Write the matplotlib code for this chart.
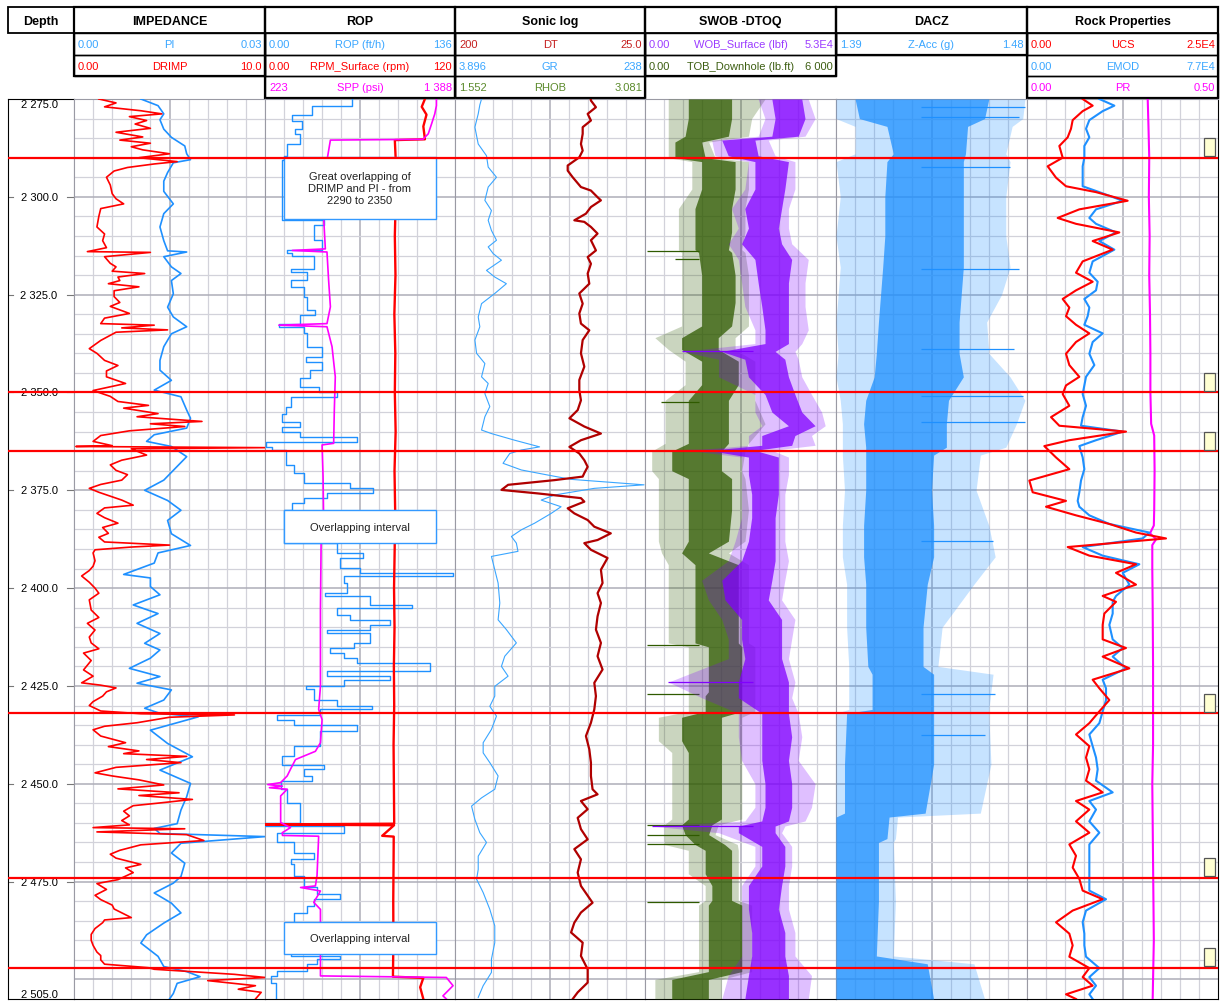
import matplotlib.pyplot as plt
import numpy as np
from matplotlib.patches import Rectangle

plt.rcParams['font.family'] = ['Liberation Sans', 'DejaVu Sans']

# ---------------------------------------------------------
# Depth window, formation tops and notes
# ---------------------------------------------------------
TOP_D, BOT_D = 2275.0, 2505.0
TOPS = [2290.0, 2350.0, 2365.0, 2432.0, 2474.0, 2497.0]
DEPTH_LABELS = [2275, 2300, 2325, 2350, 2375, 2400, 2425, 2450, 2475, 2505]
NOTES = ["Great overlapping of\nDRIMP and PI - from\n2290 to 2350",
         "Overlapping interval", "Overlapping interval"]
NOTE_SPANS = [(2289.8, 2305.6), (2380.1, 2388.5), (2485.2, 2493.6)]

TRACK_TITLES = ["IMPEDANCE", "ROP", "Sonic log", "SWOB -DTOQ", "DACZ", "Rock Properties"]

BLUE = '#1e90ff'
LBLUE = '#3aa6ff'
RED = '#ff0000'
MAG = '#ff00ff'
DTRED = '#b00000'
VIOLET = '#8000ff'
DKGREEN = '#2f5a00'

HEADER_ROWS = [
    [("0.00", "PI", "0.03", LBLUE), ("0.00", "DRIMP", "10.0", RED)],
    [("0.00", "ROP (ft/h)", "136", LBLUE), ("0.00", "RPM_Surface (rpm)", "120", RED),
     ("223", "SPP (psi)", "1 388", MAG)],
    [("200", "DT", "25.0", '#c41e1e'), ("3.896", "GR", "238", LBLUE),
     ("1.552", "RHOB", "3.081", '#5b8a2b')],
    [("0.00", "WOB_Surface (lbf)", "5.3E4", '#9b3cff'),
     ("0.00", "TOB_Downhole (lb.ft)", "6 000", '#3d5e12')],
    [("1.39", "Z-Acc (g)", "1.48", LBLUE)],
    [("0.00", "UCS", "2.5E4", RED), ("0.00", "EMOD", "7.7E4", LBLUE), ("0.00", "PR", "0.50", MAG)],
]

# ---------------------------------------------------------
# Log curves: columns are depth (m), value
# ---------------------------------------------------------
DRIMP_LOG = np.array([
    [2275.0, 1.3], [2276.0, 2.2], [2277.0, 1.6], [2278.0, 3.5], [2278.8, 4.6], [2279.5, 2.9],
    [2280.5, 3.8], [2281.4, 3.2], [2282.5, 4.0], [2283.5, 2.2], [2284.7, 3.6], [2285.5, 2.4],
    [2286.3, 4.0], [2287.2, 3.0], [2288.0, 3.6], [2289.0, 5.0], [2290.0, 3.4], [2291.0, 5.4],
    [2291.6, 4.2], [2292.5, 2.8], [2293.4, 2.1], [2295.0, 1.7], [2297.0, 1.9], [2299.2, 2.0],
    [2300.5, 2.2], [2301.8, 2.6], [2303.0, 1.4], [2305.0, 1.3], [2307.7, 1.2], [2309.5, 1.6],
    [2311.2, 1.5], [2313.0, 1.7], [2314.0, 0.7], [2314.2, 4.0], [2315.3, 1.6], [2317.0, 1.9],
    [2317.9, 2.2], [2319.0, 2.0], [2319.6, 3.7], [2320.5, 2.3], [2321.4, 2.4], [2322.2, 1.8],
    [2323.0, 3.4], [2324.0, 2.1], [2325.5, 2.1], [2327.0, 2.4], [2328.0, 1.9], [2329.8, 2.9],
    [2331.0, 1.6], [2332.4, 1.4], [2332.8, 4.2], [2333.5, 2.5], [2334.0, 4.9], [2334.6, 2.2],
    [2336.7, 1.4], [2338.8, 0.8], [2340.0, 1.2], [2341.8, 1.6], [2343.1, 2.3], [2344.5, 1.7],
    [2346.0, 1.7], [2347.7, 2.7], [2349.5, 1.0], [2351.0, 1.9], [2352.3, 2.3], [2353.3, 3.9],
    [2354.0, 2.6], [2355.4, 4.4], [2356.2, 3.3], [2357.4, 6.7], [2358.0, 4.0], [2358.7, 5.8],
    [2359.8, 2.9], [2361.0, 1.4], [2362.5, 1.0], [2363.6, 2.0], [2363.8, 0.1], [2364.1, 10.0],
    [2364.4, 3.0], [2366.0, 3.8], [2367.3, 2.5], [2368.5, 1.9], [2369.9, 2.2], [2371.0, 2.8],
    [2372.4, 2.5], [2373.5, 1.4], [2374.5, 0.8], [2375.5, 1.3], [2376.5, 1.9], [2377.5, 2.5],
    [2378.8, 3.1], [2379.5, 1.6], [2380.9, 1.2], [2382.0, 1.6], [2383.4, 2.3], [2384.5, 1.5],
    [2386.0, 1.8], [2387.0, 1.3], [2388.2, 1.6], [2389.0, 5.0], [2389.5, 3.0], [2390.2, 1.1],
    [2391.0, 1.0], [2393.0, 1.1], [2394.4, 1.0], [2395.5, 0.8], [2396.9, 0.4], [2398.5, 0.8],
    [2400.0, 1.1], [2401.3, 1.3], [2403.0, 0.8], [2405.6, 0.9], [2407.5, 1.3], [2409.0, 0.7],
    [2410.7, 1.1], [2412.5, 0.8], [2414.0, 0.9], [2415.5, 1.3], [2416.6, 0.5], [2418.5, 0.9],
    [2420.9, 0.5], [2422.5, 1.0], [2424.2, 0.4], [2424.8, 1.4], [2425.5, 2.2], [2426.5, 1.7],
    [2427.6, 1.5], [2429.0, 1.0], [2430.0, 0.8], [2431.4, 1.4], [2432.1, 3.5], [2432.4, 8.4],
    [2433.0, 5.0], [2434.4, 3.3], [2435.3, 1.6], [2436.2, 1.0], [2437.8, 1.4], [2439.5, 2.7],
    [2440.5, 1.8], [2441.6, 3.4], [2442.3, 2.6], [2443.0, 5.9], [2443.8, 3.8], [2444.6, 5.6],
    [2445.8, 2.2], [2447.2, 1.1], [2448.0, 2.0], [2449.0, 3.4], [2450.3, 4.7], [2451.3, 2.3],
    [2452.3, 5.5], [2453.0, 3.4], [2454.0, 6.2], [2455.0, 4.3], [2455.6, 3.1], [2457.0, 2.6],
    [2458.2, 2.9], [2459.4, 2.5], [2460.5, 2.9], [2461.2, 1.0], [2461.5, 5.8], [2462.3, 1.2],
    [2463.0, 5.9], [2464.5, 6.8], [2465.6, 3.5], [2467.0, 2.4], [2468.0, 1.9], [2469.0, 2.2],
    [2470.6, 3.5], [2471.5, 2.7], [2472.7, 3.1], [2474.5, 2.3], [2475.5, 1.2], [2477.0, 1.7],
    [2478.5, 1.1], [2479.6, 1.4], [2481.0, 2.0], [2482.0, 2.1], [2484.2, 3.0], [2484.8, 1.6],
    [2485.5, 1.5], [2487.0, 1.1], [2488.5, 0.9], [2490.0, 0.9], [2491.3, 1.0], [2493.0, 1.2],
    [2493.9, 1.4], [2495.0, 1.4], [2496.1, 1.6], [2497.0, 3.9], [2497.4, 4.2], [2498.0, 6.1],
    [2498.7, 8.4], [2499.5, 10.0], [2500.3, 7.0], [2501.6, 9.5], [2502.5, 8.6], [2503.3, 9.8],
    [2505.0, 9.5],
])

PI_LOG = np.array([
    [2275.0, 0.0105], [2276.7, 0.0132], [2278.8, 0.0141], [2280.3, 0.0135], [2282.7, 0.0141],
    [2284.8, 0.0153], [2287.0, 0.0174], [2289.0, 0.0177], [2290.5, 0.0183], [2291.3, 0.0156],
    [2293.8, 0.0147], [2296.0, 0.0141], [2298.6, 0.0141], [2301.8, 0.0156], [2304.3, 0.0141],
    [2307.7, 0.0135], [2311.2, 0.0141], [2313.8, 0.0147], [2314.1, 0.0177], [2315.3, 0.0141],
    [2317.9, 0.0153], [2319.6, 0.0168], [2321.4, 0.0153], [2324.8, 0.0156], [2328.2, 0.0147],
    [2330.7, 0.0156], [2333.2, 0.0177], [2335.0, 0.0153], [2338.3, 0.0141], [2341.8, 0.0135],
    [2344.3, 0.0135], [2346.9, 0.0153], [2349.4, 0.0126], [2351.1, 0.0168], [2354.5, 0.0177],
    [2356.6, 0.0183], [2359.1, 0.0177], [2360.8, 0.0126], [2362.5, 0.0114], [2363.8, 0.0153],
    [2366.4, 0.0177], [2369.9, 0.0156], [2372.4, 0.0141], [2375.0, 0.0111], [2377.6, 0.0147],
    [2380.1, 0.0168], [2382.7, 0.0147], [2386.1, 0.0153], [2389.1, 0.0183], [2391.0, 0.0132],
    [2393.6, 0.0126], [2396.5, 0.0078], [2397.4, 0.0120], [2399.6, 0.0120], [2401.7, 0.0135],
    [2404.3, 0.0093], [2406.5, 0.0132], [2409.0, 0.0099], [2411.6, 0.0135], [2414.1, 0.0111],
    [2415.8, 0.0135], [2417.9, 0.0120], [2420.5, 0.0087], [2422.6, 0.0135], [2424.3, 0.0099],
    [2426.0, 0.0153], [2428.6, 0.0141], [2430.7, 0.0111], [2432.0, 0.0135], [2432.9, 0.0195],
    [2436.3, 0.0120], [2439.7, 0.0147], [2443.1, 0.0186], [2446.5, 0.0135], [2449.9, 0.0183],
    [2453.3, 0.0177], [2456.7, 0.0168], [2460.2, 0.0162], [2461.4, 0.0126], [2462.7, 0.0135],
    [2463.5, 0.0300], [2465.2, 0.0168], [2467.7, 0.0153], [2470.3, 0.0174], [2473.7, 0.0168],
    [2475.4, 0.0156], [2477.9, 0.0126], [2480.5, 0.0153], [2483.0, 0.0168], [2485.6, 0.0141],
    [2488.6, 0.0114], [2490.7, 0.0105], [2494.1, 0.0132], [2496.7, 0.0141], [2498.0, 0.0177],
    [2499.3, 0.0198], [2501.0, 0.0162], [2503.6, 0.0156], [2505.0, 0.0150],
])

# ROP is a blocky log: each value holds down to the next depth
ROP_LOG = np.array([
    [2275.0, 62.2], [2276.7, 33.7], [2279.2, 19.5], [2280.5, 26.6], [2282.6, 21.8], [2283.9, 25.4],
    [2286.5, 15.9], [2289.5, 13.5], [2290.7, 12.3], [2306.0, 42.0], [2307.3, 34.9], [2311.1, 40.8],
    [2313.7, 15.9], [2314.4, 19.5], [2315.0, 34.9], [2318.4, 18.3], [2319.2, 30.1], [2321.3, 18.3],
    [2323.0, 27.8], [2325.6, 30.1], [2329.0, 36.1], [2330.3, 25.4], [2332.4, 10.0], [2333.2, 27.8],
    [2334.9, 30.1], [2338.3, 40.8], [2340.9, 29.0], [2342.2, 40.8], [2344.3, 32.5], [2346.4, 25.4],
    [2348.6, 38.4], [2349.8, 51.5], [2351.1, 18.3], [2353.6, 14.7], [2355.4, 12.3], [2357.5, 25.4],
    [2358.7, 12.3], [2360.0, 25.4], [2361.3, 65.7], [2362.6, 0.5], [2363.9, 5.2], [2364.7, 14.7],
    [2368.5, 20.6], [2370.7, 27.8], [2373.2, 61.0], [2374.5, 77.6], [2375.8, 44.4], [2377.0, 27.8],
    [2378.3, 19.5], [2380.0, 13.5], [2388.5, 51.5], [2391.1, 70.5], [2392.3, 53.9], [2394.9, 68.1],
    [2396.2, 134.5], [2397.0, 56.2], [2398.7, 58.6], [2401.3, 43.2], [2402.1, 75.2], [2404.3, 104.9],
    [2405.1, 51.5], [2406.8, 61.0], [2408.1, 89.5], [2409.4, 75.2], [2410.6, 44.4], [2411.5, 75.2],
    [2414.0, 63.4], [2415.3, 46.7], [2416.6, 56.2], [2417.9, 65.7], [2419.1, 117.9], [2421.3, 44.4],
    [2422.5, 89.5], [2423.4, 56.2], [2425.1, 29.0], [2425.9, 34.9], [2428.5, 51.5], [2430.2, 76.4],
    [2431.0, 39.6], [2432.3, 8.8], [2433.6, 20.6], [2434.9, 65.7], [2436.6, 39.6], [2440.4, 20.6],
    [2442.9, 12.3], [2445.1, 42.0], [2446.3, 27.8], [2448.0, 33.7], [2449.3, 11.2], [2451.4, 15.9],
    [2454.8, 25.4], [2459.9, 0.0], [2460.8, 56.2], [2462.5, 8.8], [2465.0, 20.6], [2467.6, 34.9],
    [2469.3, 18.3], [2470.6, 20.6], [2473.5, 27.8], [2476.5, 37.3], [2478.2, 53.9], [2479.5, 34.9],
    [2481.2, 30.1], [2482.9, 20.6], [2485.5, 18.3], [2494.0, 53.9], [2494.8, 37.3], [2496.1, 30.1],
    [2497.8, 8.8], [2499.1, 4.0], [2500.8, 7.6], [2505.0, 7.6],
])

RPM_LOG = np.array([
    [2275.0, 101], [2277.0, 99], [2279.0, 102], [2282.0, 100], [2285.3, 101], [2285.5, 82],
    [2290.0, 82.5], [2295.0, 81.8], [2300.0, 82.6], [2310.0, 82.0], [2320.0, 82.4], [2330.0, 81.7],
    [2340.0, 82.3], [2350.0, 82.0], [2360.0, 82.5], [2370.0, 81.8], [2380.0, 82.2], [2390.0, 81.9],
    [2400.0, 81.5], [2410.0, 81.8], [2420.0, 81.4], [2430.0, 81.6], [2440.0, 81.2], [2450.0, 81.4],
    [2460.2, 81.6], [2460.4, 0.0], [2460.6, 81.5], [2463.3, 74.0], [2463.5, 81.3], [2470.0, 81.2],
    [2480.0, 81.0], [2490.0, 81.1], [2499.3, 80.8], [2499.6, 100], [2502.0, 98], [2505.0, 100],
])

SPP_LOG = np.array([
    [2275.0, 1274], [2276.7, 1274], [2278.8, 1264], [2281.4, 1244], [2283.9, 1224], [2284.8, 1203],
    [2285.3, 1192], [2285.5, 624], [2290.7, 603], [2299.2, 593], [2305.6, 583], [2313.3, 593],
    [2313.7, 390], [2314.1, 603], [2321.3, 613], [2328.1, 624], [2332.4, 603], [2332.8, 308],
    [2333.2, 603], [2338.3, 634], [2346.0, 654], [2354.5, 648], [2363.0, 644], [2363.4, 573],
    [2371.5, 579], [2384.3, 583], [2384.7, 461], [2385.5, 573], [2388.5, 567], [2405.5, 563],
    [2425.1, 563], [2431.0, 552], [2433.6, 573], [2439.5, 563], [2441.7, 532], [2443.8, 410],
    [2446.3, 379], [2448.0, 359], [2449.7, 319], [2450.2, 240], [2450.6, 330], [2451.0, 250],
    [2451.4, 359], [2453.1, 319], [2459.9, 319], [2461.2, 379], [2462.5, 329], [2463.2, 330],
    [2463.4, 552], [2473.5, 542], [2476.1, 532], [2476.5, 441], [2477.4, 563], [2480.3, 522],
    [2482.1, 563], [2499.1, 563], [2499.5, 1335], [2501.6, 1376], [2504.2, 1314], [2505.0, 1335],
])

DT_LOG = np.array([
    [2275.0, 75.0], [2275.4, 74.8], [2277.1, 70.2], [2278.8, 77.8], [2280.5, 74.8], [2282.2, 82.4],
    [2283.9, 82.4], [2286.5, 84.0], [2288.2, 82.4], [2289.9, 85.5], [2292.0, 96.2], [2293.3, 96.2],
    [2295.0, 91.6], [2297.5, 84.0], [2298.4, 74.8], [2300.1, 68.7], [2300.9, 65.6], [2302.6, 74.8],
    [2304.3, 79.4], [2306.0, 90.1], [2306.4, 80.9], [2307.7, 74.8], [2309.4, 68.7], [2311.1, 74.8],
    [2313.7, 70.2], [2315.4, 77.8], [2317.1, 74.8], [2319.6, 77.8], [2322.2, 76.3], [2324.7, 85.5],
    [2327.3, 82.4], [2329.8, 85.5], [2332.4, 84.0], [2334.1, 76.3], [2336.6, 82.4], [2340.0, 84.0],
    [2343.4, 80.9], [2346.8, 85.5], [2349.4, 85.5], [2352.0, 84.0], [2354.5, 87.0], [2356.6, 94.6],
    [2358.7, 80.9], [2360.5, 65.6], [2362.2, 84.0], [2363.9, 94.6], [2365.6, 85.5], [2367.3, 80.9],
    [2369.0, 77.8], [2370.6, 80.9], [2371.5, 82.4], [2372.4, 108.4], [2373.6, 151.1], [2374.9, 157.2],
    [2375.8, 123.6], [2377.0, 84.0], [2377.9, 80.9], [2379.6, 96.2], [2380.9, 90.1], [2382.6, 77.8],
    [2384.3, 71.7], [2386.0, 56.5], [2387.7, 68.7], [2388.5, 80.9], [2390.2, 74.8], [2392.3, 59.5],
    [2395.3, 65.6], [2398.7, 64.1], [2401.3, 68.7], [2403.8, 65.6], [2407.2, 68.7], [2410.6, 70.2],
    [2414.0, 65.6], [2417.4, 68.7], [2420.8, 64.1], [2424.2, 71.7], [2427.6, 70.2], [2431.0, 71.7],
    [2434.4, 74.8], [2437.8, 79.4], [2441.2, 76.3], [2444.6, 74.8], [2448.0, 74.8], [2451.4, 73.3],
    [2452.7, 68.7], [2454.4, 84.0], [2456.5, 77.8], [2458.7, 87.0], [2461.6, 84.0], [2464.2, 77.8],
    [2466.7, 90.1], [2469.3, 84.0], [2472.7, 87.0], [2476.1, 84.0], [2480.4, 73.3], [2482.9, 84.0],
    [2485.5, 90.1], [2488.0, 93.1], [2490.6, 82.4], [2494.0, 84.0], [2497.4, 77.8], [2500.8, 77.8],
    [2503.3, 87.0], [2505.0, 91.6],
])

GR_LOG = np.array([
    [2275.0, 36.6], [2276.5, 34.5], [2278.8, 32.5], [2282.2, 28.4], [2286.5, 32.5], [2289.5, 42.7],
    [2292.4, 44.8], [2295.0, 55.0], [2297.5, 44.8], [2300.9, 40.7], [2303.5, 48.8], [2306.0, 44.8],
    [2308.6, 48.8], [2311.1, 55.0], [2312.8, 44.8], [2314.5, 50.9], [2316.2, 61.1], [2318.8, 42.7],
    [2320.5, 52.9], [2322.2, 67.2], [2324.7, 52.9], [2327.3, 36.6], [2330.7, 32.5], [2333.2, 34.5],
    [2336.6, 28.4], [2340.0, 30.5], [2342.6, 40.7], [2346.0, 36.6], [2347.7, 44.8], [2350.3, 40.7],
    [2353.6, 46.8], [2356.2, 40.7], [2359.6, 36.6], [2360.5, 48.8], [2362.2, 77.4], [2363.9, 108.1],
    [2364.7, 85.6], [2365.6, 71.3], [2368.1, 63.1], [2369.8, 85.6], [2371.1, 118.3], [2372.2, 146.9],
    [2373.6, 236.8], [2374.5, 175.5], [2376.2, 126.5], [2377.5, 110.1], [2379.2, 134.6], [2380.9, 122.4],
    [2383.4, 102.0], [2385.1, 85.6], [2386.8, 73.4], [2388.5, 79.5], [2390.6, 81.5], [2391.9, 48.8],
    [2395.3, 52.9], [2398.7, 57.0], [2403.8, 59.1], [2408.1, 57.0], [2410.6, 67.2], [2414.0, 79.5],
    [2417.4, 65.2], [2420.0, 61.1], [2422.5, 69.3], [2425.1, 52.9], [2427.6, 52.9], [2430.2, 46.8],
    [2432.7, 55.0], [2436.1, 48.8], [2439.5, 38.6], [2442.1, 38.6], [2444.6, 46.8], [2448.0, 57.0],
    [2451.4, 52.9], [2453.6, 36.6], [2455.7, 24.3], [2459.1, 28.4], [2462.5, 34.5], [2465.0, 42.7],
    [2468.5, 32.5], [2471.9, 32.5], [2474.4, 30.5], [2477.8, 38.6], [2482.1, 46.8], [2486.3, 52.9],
    [2490.6, 52.9], [2494.8, 48.8], [2498.2, 48.8], [2501.6, 38.6], [2504.6, 32.5],
])

# Noisy drilling logs kept as envelopes: depth, spike min, spike max, body min, body max
WOB_BAND = np.array([
    [2275.0, 31400, 45300, 35200, 43500], [2280.0, 33300, 47200, 36100, 44400],
    [2284.5, 31400, 44400, 35200, 42500], [2285.5, 18500, 34200, 21300, 30500],
    [2289.5, 19400, 36100, 23100, 31400], [2291.0, 28700, 41600, 30500, 39800],
    [2298.0, 27700, 41600, 30500, 38800], [2303.0, 24000, 39800, 27700, 37900],
    [2308.0, 25900, 39800, 28700, 37000], [2312.0, 23100, 40700, 26800, 37900],
    [2316.0, 25900, 45300, 30500, 40700], [2322.0, 26800, 44400, 31400, 39800],
    [2328.0, 27700, 44400, 32400, 39800], [2334.0, 30500, 45300, 33300, 39800],
    [2337.5, 30500, 43500, 33300, 39800], [2339.5, 10200, 41600, 21300, 36100],
    [2341.5, 20400, 42500, 27700, 38800], [2346.0, 20400, 43500, 28700, 39800],
    [2350.5, 30500, 46200, 33300, 41600], [2355.0, 30500, 49000, 35200, 43500],
    [2358.5, 32400, 50000, 39800, 47200], [2361.0, 28700, 46200, 32400, 41600],
    [2363.5, 28700, 47200, 32400, 40700], [2364.8, 12000, 35200, 17600, 30500],
    [2366.5, 26800, 39800, 28700, 37000], [2371.0, 26800, 39800, 28700, 37000],
    [2376.0, 26800, 38800, 29600, 37000], [2382.0, 26800, 38800, 29600, 36100],
    [2388.0, 25000, 38800, 28700, 36100], [2393.0, 23100, 39800, 26800, 36100],
    [2398.0, 15700, 38800, 21300, 35200], [2403.0, 17600, 37900, 22200, 34200],
    [2408.0, 21300, 41600, 26800, 37900], [2413.0, 23100, 40700, 26800, 37900],
    [2418.0, 23100, 39800, 27700, 37900], [2424.0, 6500, 41600, 25900, 39800],
    [2428.0, 15700, 40700, 25900, 39800], [2432.0, 25900, 42500, 32400, 39800],
    [2438.0, 25900, 43500, 32400, 40700], [2444.0, 26800, 42500, 32400, 39800],
    [2450.0, 30500, 47200, 33300, 40700], [2456.0, 30500, 46200, 33300, 40700],
    [2459.5, 27700, 44400, 32400, 39800], [2460.8, 1900, 38800, 25900, 36100],
    [2462.5, 20400, 37900, 25900, 36100], [2466.0, 30500, 40700, 32400, 38800],
    [2471.0, 30500, 40700, 32400, 38800], [2476.0, 26800, 39800, 28700, 37900],
    [2482.0, 26800, 39800, 28700, 37000], [2488.0, 26800, 41600, 29600, 38800],
    [2494.0, 26800, 41600, 29600, 38800], [2499.0, 23100, 46200, 28700, 39800],
    [2505.0, 21300, 45300, 27700, 39800],
])
# single long spikes reaching far left: depth, value
WOB_SPIKES = np.array([[2339.5, 10200], [2424.0, 6500], [2460.8, 1900], [2364.8, 12000]])

TOB_BAND = np.array([
    [2275.0, 730, 3770, 1360, 2720], [2280.0, 730, 3350, 1360, 2720], [2284.5, 730, 3250, 1260, 2620],
    [2286.0, 730, 2000, 940, 1780], [2290.0, 730, 2200, 940, 1890], [2291.0, 1470, 3250, 1780, 2830],
    [2298.0, 1470, 3250, 1780, 2830], [2303.0, 1050, 3140, 1570, 2720], [2309.0, 1050, 3140, 1570, 2720],
    [2313.5, 1050, 3040, 1570, 2620], [2314.2, 1150, 3140, 1680, 2720],
    [2320.0, 1150, 3250, 1780, 2830], [2327.0, 1150, 3250, 1780, 2830], [2333.0, 1150, 3250, 1780, 2720],
    [2336.0, 310, 2830, 1150, 2300], [2339.0, 730, 2830, 1150, 2300], [2342.0, 1260, 3450, 1780, 2930],
    [2348.0, 1260, 3450, 1780, 2930], [2352.0, 630, 3450, 1360, 2620], [2358.0, 630, 3770, 1360, 2620],
    [2363.0, 630, 3250, 1360, 2620], [2365.0, 210, 3140, 840, 2400], [2370.0, 210, 3040, 840, 2400],
    [2372.0, 420, 3140, 1360, 2720], [2380.0, 420, 3250, 1360, 2720], [2388.0, 420, 3140, 1360, 2620],
    [2391.0, 520, 2620, 1150, 1990], [2394.0, 730, 3250, 1570, 2930], [2404.0, 730, 3250, 1570, 2930],
    [2414.0, 730, 3250, 1570, 2930], [2415.0, 1360, 3450, 1990, 3040],
    [2426.5, 1360, 3450, 1990, 3040], [2427.5, 1360, 3450, 1890, 3040],
    [2431.5, 1360, 3450, 1890, 3040], [2433.0, 420, 3040, 1150, 2400], [2439.0, 420, 3040, 1150, 2400],
    [2442.0, 840, 3040, 1360, 2400], [2450.0, 840, 3040, 1360, 2400], [2459.0, 840, 3040, 1360, 2400],
    [2460.5, 600, 2300, 1150, 2100], [2463.0, 600, 2200, 1260, 2000], [2465.5, 600, 2900, 1570, 2500],
    [2467.0, 1360, 2930, 1890, 2720], [2473.0, 1360, 2930, 1890, 2720], [2476.0, 1890, 2930, 2100, 2720],
    [2479.8, 1890, 2930, 2100, 2720], [2481.0, 1680, 3350, 1990, 3040],
    [2490.0, 1680, 3350, 1990, 3040], [2498.0, 1680, 3350, 1990, 3040], [2500.0, 310, 2400, 840, 1990],
    [2505.0, 310, 2400, 840, 1990],
])
TOB_SPIKES = np.array([[2313.8, 50], [2414.5, 50], [2427.0, 50], [2460.5, 50], [2463.0, 50],
                       [2465.5, 50], [2480.2, 50], [2316.0, 950], [2352.5, 500]])

ZACC_BAND = np.array([
    [2275.0, 1.390, 1.479, 1.399, 1.462], [2280.0, 1.390, 1.478, 1.401, 1.460],
    [2282.0, 1.399, 1.473, 1.414, 1.452], [2289.0, 1.399, 1.470, 1.417, 1.451],
    [2291.0, 1.390, 1.472, 1.414, 1.450], [2300.0, 1.392, 1.470, 1.413, 1.450],
    [2310.0, 1.390, 1.470, 1.413, 1.450], [2318.0, 1.392, 1.472, 1.412, 1.450],
    [2325.0, 1.391, 1.468, 1.411, 1.449], [2332.0, 1.390, 1.461, 1.410, 1.448],
    [2340.0, 1.391, 1.462, 1.409, 1.448], [2346.0, 1.390, 1.472, 1.408, 1.450],
    [2352.0, 1.392, 1.479, 1.404, 1.443], [2358.0, 1.393, 1.475, 1.403, 1.442],
    [2364.0, 1.393, 1.470, 1.404, 1.442], [2366.0, 1.393, 1.458, 1.404, 1.436],
    [2375.0, 1.394, 1.456, 1.404, 1.435], [2384.0, 1.393, 1.462, 1.403, 1.436],
    [2392.0, 1.393, 1.465, 1.403, 1.436], [2399.0, 1.395, 1.455, 1.404, 1.433],
    [2410.0, 1.395, 1.440, 1.404, 1.431], [2420.0, 1.396, 1.438, 1.405, 1.431],
    [2422.0, 1.396, 1.464, 1.407, 1.436], [2431.0, 1.396, 1.462, 1.407, 1.436],
    [2432.0, 1.390, 1.462, 1.395, 1.436], [2445.0, 1.390, 1.463, 1.394, 1.436],
    [2457.5, 1.390, 1.458, 1.394, 1.432], [2458.5, 1.390, 1.419, 1.390, 1.415],
    [2464.0, 1.390, 1.418, 1.390, 1.414], [2465.0, 1.390, 1.417, 1.390, 1.410],
    [2480.0, 1.390, 1.418, 1.390, 1.410], [2494.0, 1.390, 1.417, 1.390, 1.409],
    [2496.0, 1.390, 1.455, 1.390, 1.433], [2505.0, 1.390, 1.460, 1.390, 1.436],
])
# single long spikes reaching far right: depth, value
ZACC_SPIKES = np.array([[2277.0, 1.479], [2279.5, 1.476], [2292.5, 1.472], [2318.5, 1.476],
                        [2339.0, 1.474], [2351.0, 1.478], [2357.5, 1.479], [2388.0, 1.464],
                        [2427.0, 1.465], [2437.5, 1.460]])

# Rock properties: depth, UCS, EMOD
ROCK_LOG = np.array([
    [2275.0, 7286, 29165], [2276.7, 8595, 35213], [2278.1, 7286, 30509], [2280.4, 5977, 25133],
    [2282.6, 5759, 23789], [2284.8, 5323, 25133], [2287.0, 4232, 23117], [2290.0, 4668, 23117],
    [2292.2, 2705, 22445], [2295.1, 3796, 22445], [2297.3, 5105, 22445], [2298.8, 9032, 29165],
    [2301.0, 13177, 38573], [2303.2, 6850, 27821], [2305.4, 4014, 25133], [2306.9, 6414, 27821],
    [2309.1, 12086, 35885], [2311.3, 8595, 29165], [2313.5, 11213, 35213], [2316.5, 7286, 26477],
    [2319.4, 6414, 25133], [2321.7, 8595, 28493], [2323.9, 6414, 27821], [2326.1, 4668, 23117],
    [2328.3, 5541, 25133], [2330.5, 5105, 24461], [2332.7, 6414, 23117], [2334.9, 8159, 30509],
    [2337.1, 6414, 26477], [2340.1, 5105, 25133], [2343.0, 5541, 27149], [2346.0, 6850, 23789],
    [2348.2, 5105, 23117], [2350.4, 4668, 22445], [2353.4, 5541, 23789], [2356.3, 3141, 22445],
    [2358.5, 4232, 21773], [2360.0, 12958, 38573], [2362.2, 5541, 27821], [2363.7, 2269, 21101],
    [2366.6, 3796, 22445], [2369.6, 5541, 23117], [2372.5, 305, 21773], [2375.5, 742, 21101],
    [2377.7, 5105, 20429], [2379.2, 2487, 21101], [2381.4, 6414, 25133], [2383.6, 10777, 33197],
    [2385.8, 14267, 49325], [2387.3, 18194, 46637], [2389.5, 5323, 22445], [2391.7, 8159, 30509],
    [2393.9, 14267, 45293], [2396.1, 11649, 38573], [2399.1, 14267, 41261], [2402.0, 9904, 35885],
    [2403.5, 11649, 34541], [2406.5, 10122, 34541], [2409.4, 9904, 33197], [2413.1, 9904, 34541],
    [2415.3, 12958, 38573], [2417.5, 9904, 34541], [2420.5, 13395, 39917], [2423.4, 8595, 30509],
    [2425.6, 9468, 31853], [2428.6, 10777, 31853], [2431.5, 9468, 30509], [2434.5, 8159, 29165],
    [2437.4, 6414, 25133], [2440.4, 8159, 26477], [2443.3, 7723, 27821], [2446.3, 8159, 28493],
    [2449.2, 7723, 27821], [2452.2, 9904, 34541], [2454.4, 6414, 25133], [2456.6, 8159, 27821],
    [2459.6, 6414, 25133], [2462.5, 8159, 29165], [2465.5, 5541, 25133], [2468.4, 6414, 25133],
    [2471.4, 5977, 25133], [2474.3, 6850, 25133], [2477.3, 7286, 25133], [2479.5, 9904, 31853],
    [2482.4, 5977, 23789], [2485.4, 3796, 22445], [2488.3, 5541, 23117], [2491.3, 5977, 23117],
    [2494.2, 5541, 23789], [2497.1, 8159, 29165], [2499.4, 7286, 25133], [2501.6, 8595, 27821],
    [2503.8, 5105, 25133], [2505.0, 6414, 26477],
])

PR_LOG = np.array([
    [2275.0, 0.316], [2282.0, 0.318], [2290.0, 0.320], [2300.0, 0.319], [2310.0, 0.321],
    [2320.0, 0.320], [2330.0, 0.322], [2340.0, 0.323], [2350.0, 0.323], [2358.0, 0.325],
    [2361.0, 0.333], [2370.0, 0.334], [2380.0, 0.333], [2384.0, 0.332], [2386.0, 0.322],
    [2387.5, 0.338], [2389.0, 0.328], [2395.0, 0.328], [2405.0, 0.329], [2420.0, 0.330],
    [2440.0, 0.330], [2450.0, 0.328], [2460.0, 0.329], [2470.0, 0.330], [2480.0, 0.331],
    [2490.0, 0.332], [2500.0, 0.330], [2505.0, 0.329],
])

# ---------------------------------------------------------
# Figure layout (pixel based)
# ---------------------------------------------------------
W, H = 1221, 1003
Y_TOP, Y_BOT = 100, 1000
TRACK_EDGES = [74, 265, 455, 645, 836, 1027, 1218]
ROW_Y = [34, 55.7, 77.4, 99.1]

fig = plt.figure(figsize=(W / 100, H / 100), dpi=100)


def px_axes(x0, x1, y0, y1):
    return fig.add_axes([x0 / W, 1 - y1 / H, (x1 - x0) / W, (y1 - y0) / H])


# header boxes
hdr = fig.add_axes([0, 0, 1, 1])
hdr.set_xlim(0, W)
hdr.set_ylim(H, 0)
hdr.axis('off')


def hbox(x0, y0, x1, y1, lw=1.0):
    hdr.add_patch(Rectangle((x0, y0), x1 - x0, y1 - y0, fill=False, ec='black', lw=lw))


hbox(8, 8, 74, 34, lw=1.3)
hdr.text(41, 21.5, 'Depth', ha='center', va='center', fontsize=9, fontweight='bold')
for i, title in enumerate(TRACK_TITLES):
    x0, x1 = TRACK_EDGES[i], TRACK_EDGES[i + 1]
    hbox(x0, 8, x1, 34, lw=1.3)
    hdr.text((x0 + x1) / 2, 21.5, title, ha='center', va='center', fontsize=9, fontweight='bold')
    for r, (lo, name, hi, col) in enumerate(HEADER_ROWS[i]):
        y0, y1 = ROW_Y[r], ROW_Y[r + 1]
        hbox(x0, y0, x1, y1)
        yc = (y0 + y1) / 2
        hdr.text(x0 + 4, yc, lo, ha='left', va='center', fontsize=8, color=col)
        hdr.text((x0 + x1) / 2, yc, name, ha='center', va='center', fontsize=8, color=col)
        hdr.text(x1 - 3, yc, hi, ha='right', va='center', fontsize=8, color=col)
    hbox(x0, 8, x1, ROW_Y[len(HEADER_ROWS[i])], lw=1.6)

# depth column
dax = px_axes(8, 74, Y_TOP, Y_BOT)
dax.set_xlim(0, 1)
dax.set_ylim(BOT_D, TOP_D)
dax.set_xticks([])
dax.set_yticks([])
for side in ['left', 'bottom', 'top']:
    dax.spines[side].set_color('black')
dax.spines['right'].set_color('#9a9aa4')
for d in DEPTH_LABELS:
    label = f"{d:,.1f}".replace(",", " ")
    va = 'top' if d == TOP_D else ('bottom' if d == BOT_D else 'center')
    dax.text(0.47, d, label, ha='center', va=va, fontsize=8)
    if TOP_D < d < BOT_D:
        dax.plot([0, 0.07], [d, d], color='#777777', lw=0.8)
        dax.plot([0.9, 1.0], [d, d], color='#777777', lw=0.8)

# track frames with grid
tracks = []
for i in range(len(TRACK_TITLES)):
    ax = px_axes(TRACK_EDGES[i], TRACK_EDGES[i + 1], Y_TOP, Y_BOT)
    ax.set_xlim(0, 10)
    ax.set_ylim(BOT_D, TOP_D)
    ax.set_xticks([5])
    ax.set_xticks(np.arange(1, 10), minor=True)
    ax.set_yticks(np.arange(2300, 2501, 25))
    ax.set_yticks(np.arange(2280, 2505, 5), minor=True)
    ax.grid(which='minor', color='#d2d2da', lw=0.9)
    ax.grid(which='major', color='#aeaeb8', lw=1.1)
    ax.tick_params(which='both', length=0, labelbottom=False, labelleft=False)
    for side in ['left', 'right', 'top']:
        ax.spines[side].set_color('#9a9aa4')
    ax.spines['bottom'].set_color('black')
    if i == len(TRACK_TITLES) - 1:
        ax.spines['right'].set_color('black')
    tracks.append(ax)


def curve_ax(base, lo, hi):
    ax = base.twiny()
    ax.set_xlim(lo, hi)
    ax.axis('off')
    return ax


def band(ax, arr, color, spikes=None, spike_from=None):
    # light halo for the spike reach, denser body of the trace
    ax.fill_betweenx(arr[:, 0], arr[:, 1], arr[:, 2], color=color, alpha=0.25, lw=0)
    ax.fill_betweenx(arr[:, 0], arr[:, 3], arr[:, 4], color=color, alpha=0.75, lw=0)
    if spikes is not None:
        ax.hlines(spikes[:, 0], spike_from, spikes[:, 1], color=color, lw=0.9)


# IMPEDANCE
curve_ax(tracks[0], 0, 0.03).plot(PI_LOG[:, 1], PI_LOG[:, 0], color=BLUE, lw=1.2)
curve_ax(tracks[0], 0, 10).plot(DRIMP_LOG[:, 1], DRIMP_LOG[:, 0], color=RED, lw=1.2)

# ROP
curve_ax(tracks[1], 0, 136).plot(ROP_LOG[:, 1], ROP_LOG[:, 0], color=BLUE, lw=1.0,
                                 drawstyle='steps-pre')
curve_ax(tracks[1], 0, 120).plot(RPM_LOG[:, 1], RPM_LOG[:, 0], color=RED, lw=1.7)
curve_ax(tracks[1], 223, 1388).plot(SPP_LOG[:, 1], SPP_LOG[:, 0], color=MAG, lw=1.2)

# Sonic log
curve_ax(tracks[2], 3.896, 238).plot(GR_LOG[:, 1], GR_LOG[:, 0], color=LBLUE, lw=0.8)
curve_ax(tracks[2], 200, 25).plot(DT_LOG[:, 1], DT_LOG[:, 0], color=DTRED, lw=1.6)

# SWOB - DTOQ
band(curve_ax(tracks[3], 0, 6000), TOB_BAND, DKGREEN, TOB_SPIKES, 1700)
band(curve_ax(tracks[3], 0, 53000), WOB_BAND, VIOLET, WOB_SPIKES, 30000)

# DACZ
band(curve_ax(tracks[4], 1.39, 1.48), ZACC_BAND, BLUE, ZACC_SPIKES, 1.43)

# Rock properties
curve_ax(tracks[5], 0, 0.5).plot(PR_LOG[:, 1], PR_LOG[:, 0], color=MAG, lw=1.5)
curve_ax(tracks[5], 0, 77000).plot(ROCK_LOG[:, 2], ROCK_LOG[:, 0], color=BLUE, lw=1.5)
curve_ax(tracks[5], 0, 25000).plot(ROCK_LOG[:, 1], ROCK_LOG[:, 0], color=RED, lw=1.5)

# overlay: tops, comment boxes, top flags
ov = px_axes(0, W, Y_TOP, Y_BOT)
ov.set_xlim(0, W)
ov.set_ylim(BOT_D, TOP_D)
ov.axis('off')
ov.set_zorder(5)
for (d0, d1), txt in zip(NOTE_SPANS, NOTES):
    ov.add_patch(Rectangle((284, d0), 152, d1 - d0, fc='white', ec='#3399ff', lw=1.0, zorder=2))
    ov.text(360, (d0 + d1) / 2, txt, ha='center', va='center', fontsize=8,
            color='#222222', linespacing=1.25, zorder=3)
ov.hlines(TOPS, 8, 1218, colors=RED, lw=1.6, zorder=4)
for d in TOPS:
    ov.add_patch(Rectangle((1204, d - 5.0), 11, 4.6, fc='#ffffd2', ec='#555555', lw=0.9, zorder=5))

fig.savefig('out.png', dpi=100)
